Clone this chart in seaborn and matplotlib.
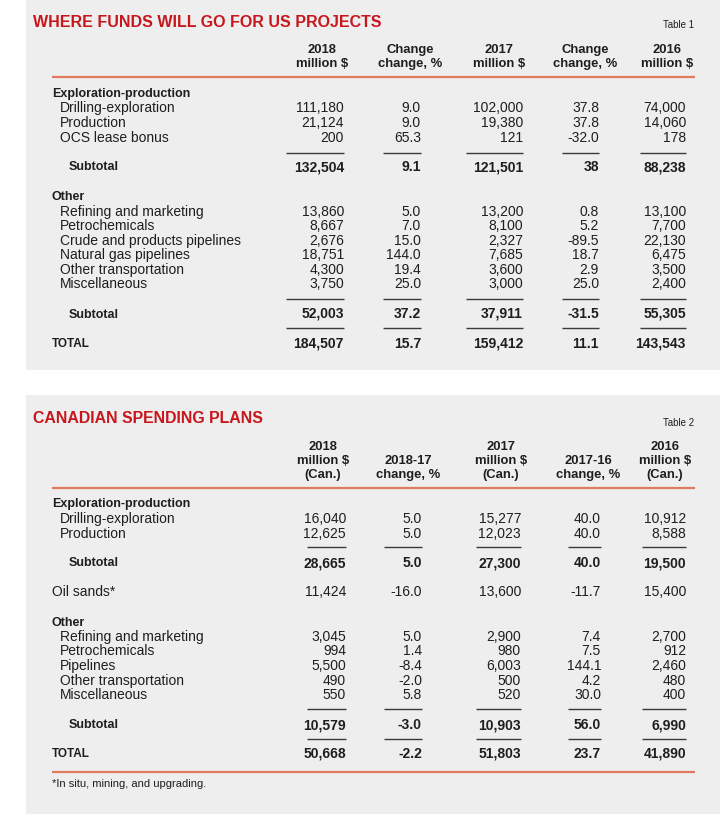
import matplotlib
matplotlib.use("Agg")
import matplotlib.pyplot as plt
from matplotlib import font_manager
from matplotlib.patches import Rectangle
import seaborn as sns

# ---------------- data ----------------
t1_title = "WHERE FUNDS WILL GO FOR US PROJECTS"
t1_tag = "Table 1"
t1_headers = [["2018", "million $"], ["Change", "change, %"], ["2017", "million $"],
              ["Change", "change, %"], ["2016", "million $"]]
t1_sections = ["Exploration-production", "Other"]
t1_rows = ["Drilling-exploration", "Production", "OCS lease bonus", "Subtotal",
           "Refining and marketing", "Petrochemicals", "Crude and products pipelines",
           "Natural gas pipelines", "Other transportation", "Miscellaneous",
           "Subtotal", "TOTAL"]
t1_kinds = ["item", "item", "item", "sub", "item", "item", "item", "item", "item",
            "item", "sub", "total"]
t1_2018 = [111180, 21124, 200, 132504, 13860, 8667, 2676, 18751, 4300, 3750, 52003, 184507]
t1_chg18 = [9.0, 9.0, 65.3, 9.1, 5.0, 7.0, 15.0, 144.0, 19.4, 25.0, 37.2, 15.7]
t1_2017 = [102000, 19380, 121, 121501, 13200, 8100, 2327, 7685, 3600, 3000, 37911, 159412]
t1_chg17 = [37.8, 37.8, -32.0, 38, 0.8, 5.2, -89.5, 18.7, 2.9, 25.0, -31.5, 11.1]
t1_2016 = [74000, 14060, 178, 88238, 13100, 7700, 22130, 6475, 3500, 2400, 55305, 143543]

t2_title = "CANADIAN SPENDING PLANS"
t2_tag = "Table 2"
t2_headers = [["2018", "million $", "(Can.)"], ["2018-17", "change, %"],
              ["2017", "million $", "(Can.)"], ["2017-16", "change, %"],
              ["2016", "million $", "(Can.)"]]
t2_sections = ["Exploration-production", "Other"]
t2_rows = ["Drilling-exploration", "Production", "Subtotal", "Oil sands*",
           "Refining and marketing", "Petrochemicals", "Pipelines",
           "Other transportation", "Miscellaneous", "Subtotal", "TOTAL"]
t2_kinds = ["item", "item", "sub", "plain", "item", "item", "item", "item", "item",
            "sub", "total"]
t2_2018 = [16040, 12625, 28665, 11424, 3045, 994, 5500, 490, 550, 10579, 50668]
t2_chg18 = [5.0, 5.0, 5.0, -16.0, 5.0, 1.4, -8.4, -2.0, 5.8, -3.0, -2.2]
t2_2017 = [15277, 12023, 27300, 13600, 2900, 980, 6003, 500, 520, 10903, 51803]
t2_chg17 = [40.0, 40.0, 40.0, -11.7, 7.4, 7.5, 144.1, 4.2, 30.0, 56.0, 23.7]
t2_2016 = [10912, 8588, 19500, 15400, 2700, 912, 2460, 480, 400, 6990, 41890]
t2_note = "*In situ, mining, and upgrading."

# ---------------- style ----------------
sns.set_theme(style="white")
available = {f.name for f in font_manager.fontManager.ttflist}
BODY = "Liberation Sans" if "Liberation Sans" in available else "DejaVu Sans"
NARROW = "Liberation Sans Narrow" if "Liberation Sans Narrow" in available else BODY
plt.rcParams["font.family"] = [BODY, "DejaVu Sans"]

PANEL = "#eeeeee"
RED = "#c8161d"
SALMON = "#e07a5f"
INK = "#1e1e1e"
RULE = "#3a3a3a"

fig = plt.figure(figsize=(7.2, 8.14), dpi=100)
fig.patch.set_facecolor("white")
ax = fig.add_axes([0, 0, 1, 1])
ax.set_xlim(0, 720)
ax.set_ylim(814, 0)
ax.axis("off")


def txt(x, yc, s, size=10, weight="normal", ha="left", color=INK, family=None):
    px = size * 100 / 72
    kw = {}
    if family:
        kw["family"] = family
    return ax.text(x, yc + 0.36 * px, s, fontsize=size, fontweight=weight, ha=ha,
                   va="baseline", color=color, **kw)


def fit_title(x, yc, s, target_w):
    fs = 14
    t = txt(x, yc, s, size=fs, weight="bold", color=RED, family=[NARROW, "DejaVu Sans"])
    fig.canvas.draw()
    w = t.get_window_extent().width
    fs2 = fs * target_w / w
    t.remove()
    txt(x, yc, s, size=fs2, weight="bold", color=RED, family=[NARROW, "DejaVu Sans"])


def fmt_money(v):
    return f"{v:,}"


def fmt_pct(v):
    return str(v) if isinstance(v, int) else f"{v:.1f}"


def draw_table(panel_y, panel_h, title, title_w, title_y, tag, tag_y, headers,
               head_centers, head_line_ys, red_y, sections, section_ys, rows, kinds,
               row_ys, cols, col_right, rule_widths, rule_ys):
    ax.add_patch(Rectangle((26, panel_y), 694, panel_h, facecolor=PANEL, lw=0))
    fit_title(33, title_y, title, title_w)
    txt(694, tag_y, tag, size=7, ha="right", family=[NARROW, "DejaVu Sans"])
    for hc, lines in zip(head_centers, headers):
        ys = head_line_ys[-len(lines):]
        for y, s in zip(ys, lines):
            txt(hc, y, s, size=9.4, weight="bold", ha="center")
    ax.plot([52, 695], [red_y, red_y], color=SALMON, lw=1.6, solid_capstyle="butt")
    for s, y in zip(sections, section_ys):
        txt(52, y, s, size=9, weight="bold")
    label_x = {"item": 60, "sub": 69, "plain": 52, "total": 52}
    label_size = {"item": 10, "sub": 9, "plain": 10, "total": 8.5}
    for i, (lab, kind, y) in enumerate(zip(rows, kinds, row_ys)):
        bold = kind in ("sub", "total")
        txt(label_x[kind], y, lab, size=label_size[kind],
            weight="bold" if bold else "normal")
        for j, (vals, xr) in enumerate(zip(cols, col_right)):
            v = vals[i]
            s = fmt_pct(v) if j % 2 == 1 else fmt_money(v)
            txt(xr, y, s, size=10, weight="bold" if bold else "normal", ha="right")
    for ry in rule_ys:
        for xr, w in zip(col_right, rule_widths):
            ax.plot([xr - w, xr], [ry, ry], color=RULE, lw=1.0, solid_capstyle="butt")


draw_table(0, 370, t1_title, 347, 21, t1_tag, 24, t1_headers,
           [322, 410, 499, 585, 667], [48, 62], 77,
           t1_sections, [92, 195], t1_rows, t1_kinds,
           [107, 122, 137, 166, 211, 225, 240, 254, 269, 283, 313, 343],
           [t1_2018, t1_chg18, t1_2017, t1_chg17, t1_2016],
           [344, 421, 523, 599, 686], [58, 38, 57, 37, 46], [153, 299, 328])

draw_table(395, 419, t2_title, 231, 417, t2_tag, 422, t2_headers,
           [323, 408, 501, 588, 665], [445, 459, 473], 488,
           t2_sections, [503, 621], t2_rows, t2_kinds,
           [518, 533, 562, 591, 636, 650, 665, 680, 694, 724, 753],
           [t2_2018, t2_chg18, t2_2017, t2_chg17, t2_2016],
           [346, 422, 521, 601, 686], [39, 38, 45, 33, 44], [547, 709, 739])

ax.plot([52, 695], [772, 772], color=SALMON, lw=1.6, solid_capstyle="butt")
txt(52, 783, t2_note, size=8)

fig.savefig("out.png", dpi=100, facecolor="white")
